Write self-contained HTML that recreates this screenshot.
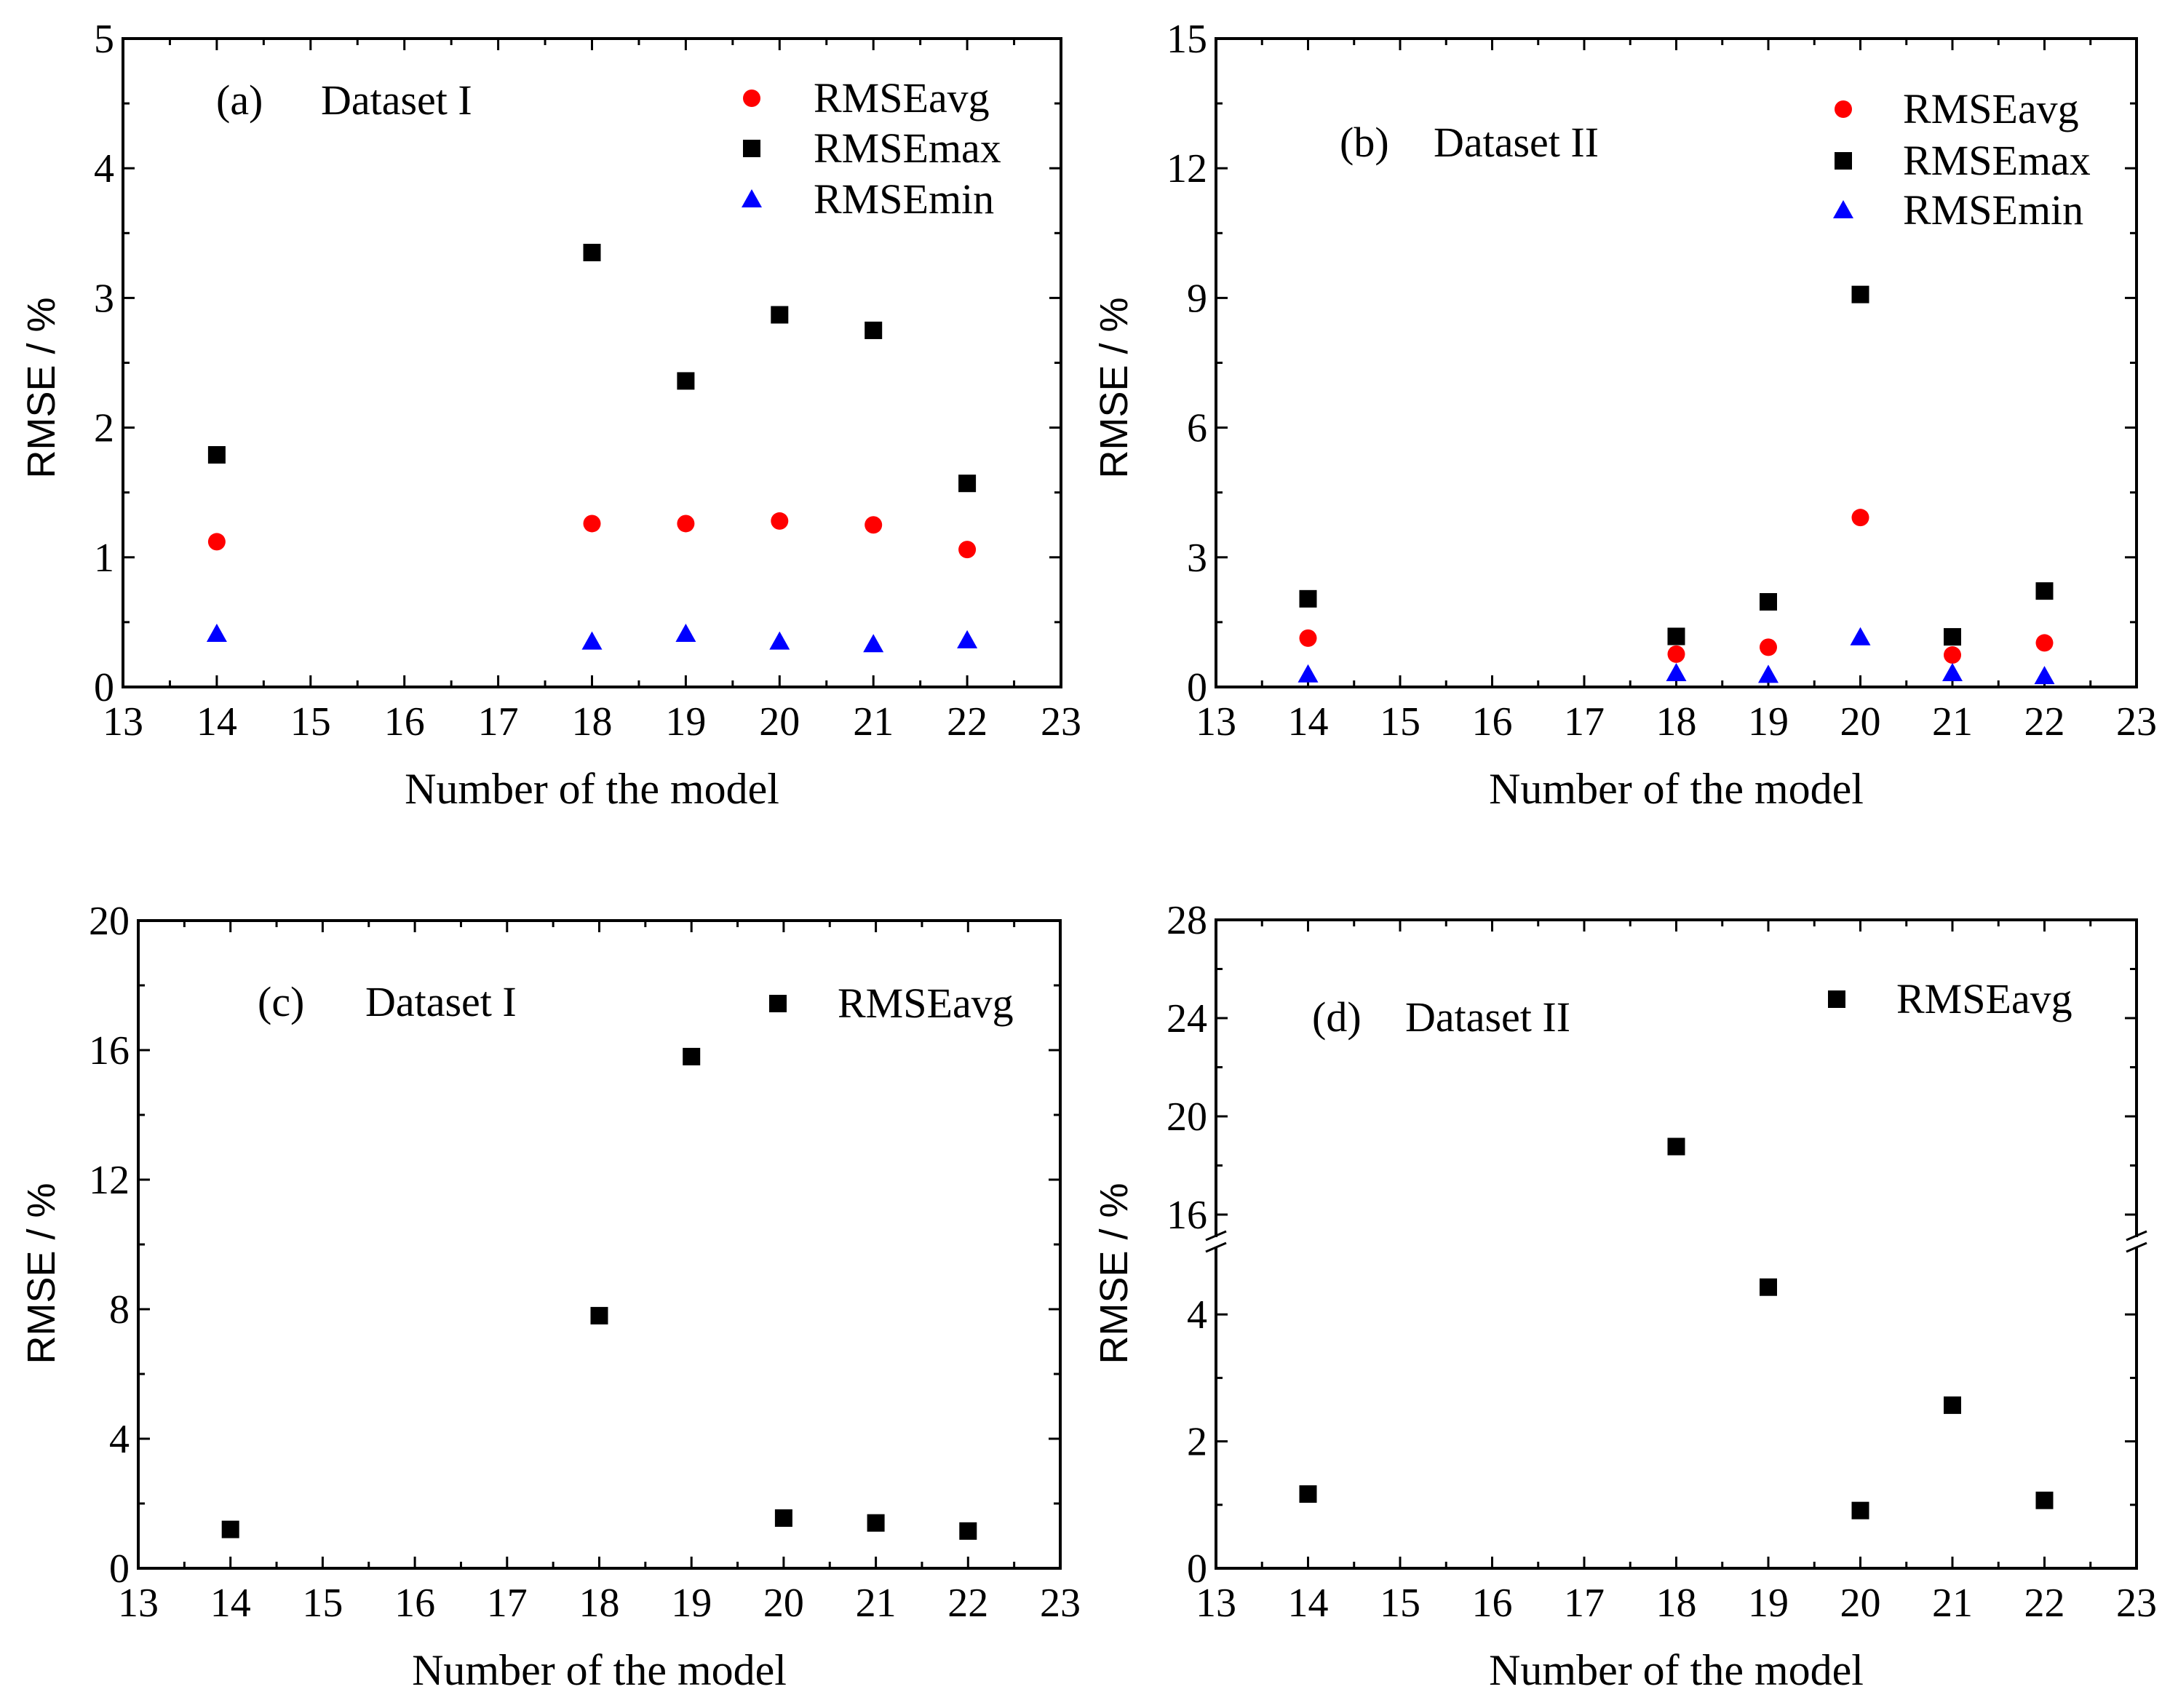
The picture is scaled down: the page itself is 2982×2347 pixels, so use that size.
<!DOCTYPE html>
<html><head><meta charset="utf-8"><style>
html,body{margin:0;padding:0;background:#fff;}
svg{display:block;font-family:"Liberation Serif",serif;}
</style></head><body>
<svg id="fig" width="2982" height="2347" viewBox="0 0 2982 2347" xmlns="http://www.w3.org/2000/svg"></svg>
<script>
const models = [14, 18, 19, 20, 21, 22];
const aAvg = [1.12, 1.26, 1.26, 1.28, 1.25, 1.06];
const aMax = [1.79, 3.35, 2.36, 2.87, 2.75, 1.57];
const aMin = [0.41, 0.35, 0.41, 0.35, 0.33, 0.36];
const bAvg = [1.13, 0.76, 0.92, 3.92, 0.74, 1.02];
const bMax = [2.04, 1.17, 1.97, 9.08, 1.16, 2.22];
const bMin = [0.29, 0.32, 0.28, 1.15, 0.32, 0.25];
const cAvg = [1.2, 7.8, 15.8, 1.55, 1.4, 1.15];
const dAvg = [1.17, 18.77, 4.43, 0.91, 2.57, 1.07];
const xTicks = [13, 14, 15, 16, 17, 18, 19, 20, 21, 22, 23];
const aTicks = [0, 1, 2, 3, 4, 5];
const bTicks = [0, 3, 6, 9, 12, 15];
const cTicks = [0, 4, 8, 12, 16, 20];
const dTicksLow = [0, 2, 4];
const dTicksHigh = [16, 20, 24, 28];

const NS = "http://www.w3.org/2000/svg";
const svg = document.getElementById('fig');
function mk(tag, attrs, parent, text){
  const e = document.createElementNS(NS, tag);
  for (const k in attrs) e.setAttribute(k, attrs[k]);
  if (text !== undefined) e.textContent = text;
  (parent || svg).appendChild(e);
  return e;
}
function marker(g, type, cx, cy){
  let e;
  if (type === 'circle') e = mk('circle', {cx: cx, cy: cy, r: 12, fill: '#ff0000'}, g);
  else if (type === 'square') e = mk('rect', {x: cx-12, y: cy-12, width: 24, height: 24, fill: '#000'}, g);
  else e = mk('polygon', {points: `${cx},${cy-14} ${cx+14},${cy+11} ${cx-14},${cy+11}`, fill: '#0000ff'}, g);
  return e;
}

function panel(o){
  const g = mk('g', {});
  
  
  const L=o.L, R=o.R, T=o.T, B=o.B;
  const xs = v => L + (v-13)/10*(R-L);
  const ys = o.ys;
  const fr = mk('rect', {x:L, y:T, width:R-L, height:B-T, fill:'none', stroke:'#000', 'stroke-width':4}, g);
  
  
  for (let i=0;i<xTicks.length;i++){
    const v = xTicks[i], x = xs(v);
    mk('line', {x1:x, y1:B, x2:x, y2:B-16, stroke:'#000','stroke-width':3}, g);
    mk('line', {x1:x, y1:T, x2:x, y2:T+16, stroke:'#000','stroke-width':3}, g);
    if (i < xTicks.length-1){
      const xm = xs(v+0.5);
      mk('line', {x1:xm, y1:B, x2:xm, y2:B-9, stroke:'#000','stroke-width':3}, g);
      mk('line', {x1:xm, y1:T, x2:xm, y2:T+9, stroke:'#000','stroke-width':3}, g);
    }
    const t = mk('text', {x:x, y:B+66, 'font-size':56, 'text-anchor':'middle', fill:'#000'}, g, String(v));
    
    
  }
  o.yticks.forEach(v => {
    const y = ys(v);
    mk('line', {x1:L, y1:y, x2:L+16, y2:y, stroke:'#000','stroke-width':3}, g);
    mk('line', {x1:R, y1:y, x2:R-16, y2:y, stroke:'#000','stroke-width':3}, g);
    const t = mk('text', {x:L-12, y:y+19, 'font-size':56, 'text-anchor':'end', fill:'#000'}, g, String(v));
    
    
  });
  (o.minor||[]).forEach(v => {
    const y = ys(v);
    mk('line', {x1:L, y1:y, x2:L+9, y2:y, stroke:'#000','stroke-width':3}, g);
    mk('line', {x1:R, y1:y, x2:R-9, y2:y, stroke:'#000','stroke-width':3}, g);
  });
  const xt = mk('text', {x:(L+R)/2, y:B+160, 'font-size':60, 'text-anchor':'middle', fill:'#000'}, g, 'Number of the model');
  
  
  const yc = o.ytitleY;
  const yt = mk('text', {x:o.ytitleX, y:yc, 'font-size':54, 'text-anchor':'middle', fill:'#000', transform:`rotate(-90 ${o.ytitleX} ${yc})`, 'font-family':'Liberation Sans, sans-serif'}, g, 'RMSE / %');
  
  
  const pl = mk('text', {x:o.lab[0], y:o.lab[1], 'font-size':58, fill:'#000'}, g, o.labText);
  
  
  const ds = mk('text', {x:o.ds[0], y:o.lab[1], 'font-size':58, fill:'#000'}, g, o.dsText);
  
  
  o.series.forEach((s, si) => {
    const sg = mk('g', {}, g);
    
    
    for (let i=0;i<models.length;i++){
      const m = marker(sg, s.type, xs(models[i]), ys(s.vals[i]));
      
      
    }
    const lg = mk('g', {}, g);
    
    
    const ly = o.legY[si];
    marker(lg, s.type, o.legX, ly);
    mk('text', {x:o.legTX, y:ly+19, 'font-size':58, fill:'#000'}, lg, s.label);
  });
  return {g, L, R, T, B};
}

panel({name:'panel-a', L:169, R:1458, T:53, B:944,
  ys: v => 944 - v/5*891, yticks:aTicks, minor:[0.5,1.5,2.5,3.5,4.5],
  ytitleX:75, ytitleY:533, lab:[297,157], labText:'(a)', ds:[441], dsText:'Dataset I',
  legX:1033, legTX:1118, legY:[135,204,274],
  series:[{type:'circle',label:'RMSEavg',vals:aAvg},{type:'square',label:'RMSEmax',vals:aMax},{type:'triangle',label:'RMSEmin',vals:aMin}]});
panel({name:'panel-b', L:1671, R:2936, T:53, B:944,
  ys: v => 944 - v/15*891, yticks:bTicks, minor:[1.5,4.5,7.5,10.5,13.5],
  ytitleX:1549, ytitleY:533, lab:[1841,215], labText:'(b)', ds:[1970], dsText:'Dataset II',
  legX:2533, legTX:2615, legY:[150,221,289],
  series:[{type:'circle',label:'RMSEavg',vals:bAvg},{type:'square',label:'RMSEmax',vals:bMax},{type:'triangle',label:'RMSEmin',vals:bMin}]});
panel({name:'panel-c', L:190, R:1457, T:1265, B:2155,
  ys: v => 2155 - v/20*890, yticks:cTicks, minor:[2,6,10,14,18],
  ytitleX:75, ytitleY:1750, lab:[354,1396], labText:'(c)', ds:[502], dsText:'Dataset I',
  legX:1069, legTX:1151, legY:[1379],
  series:[{type:'square',label:'RMSEavg',vals:cAvg}]});
const dys = v => v <= 5 ? 2155 - v*87.2 : 1669 - (v-16)*33.75;
const pd = panel({name:'panel-d', L:1671, R:2936, T:1264, B:2155,
  ys: dys, yticks:dTicksLow.concat(dTicksHigh), minor:[1,3,18,22,26],
  ytitleX:1549, ytitleY:1750, lab:[1803,1417], labText:'(d)', ds:[1931], dsText:'Dataset II',
  legX:2524, legTX:2606, legY:[1373],
  series:[{type:'square',label:'RMSEavg',vals:dAvg}]});
[1671, 2936].forEach(x => {
  const bg = mk('g', {}, pd.g);
  
  
  mk('rect', {x:x-6, y:1700, width:12, height:14, fill:'#fff'}, bg);
  mk('line', {x1:x-14, y1:1704, x2:x+14, y2:1692, stroke:'#000','stroke-width':3}, bg);
  mk('line', {x1:x-14, y1:1720, x2:x+14, y2:1708, stroke:'#000','stroke-width':3}, bg);
});
</script>
</body></html>
